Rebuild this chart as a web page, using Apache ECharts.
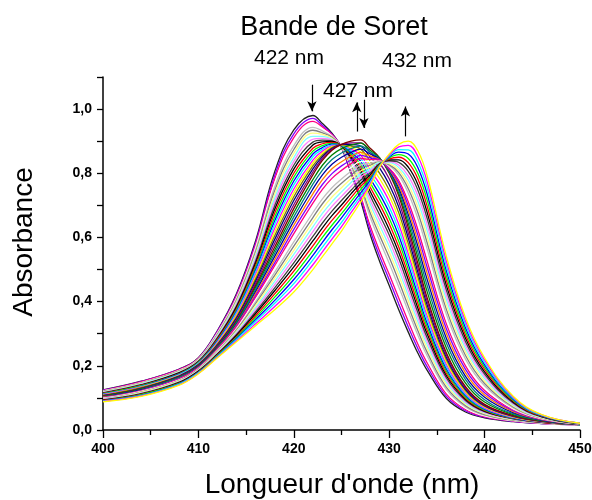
<!DOCTYPE html>
<html>
<head>
<meta charset="utf-8">
<script src="https://cdn.jsdelivr.net/npm/echarts@6.0.0/dist/echarts.min.js"></script>
<style>html,body{margin:0;padding:0;background:#fff;}#chart{width:592px;height:500px;}</style>
</head>
<body>
<div id="chart"></div>
<script>
// Wavelengths (nm) at which the absorbance of every spectrum is read
const wavelengths = [400,404,408,410,412,414,416,418,420,422,423,424,425,426,427,428,429,430,431,432,433,434,436,438,440,443,446,450];

// Absorbance at each wavelength for the 41 successive spectra (spectrum 1 ... 41)
const a400 = [0.125,0.124,0.123,0.122,0.121,0.120,0.119,0.118,0.117,0.116,0.115,0.114,0.113,0.112,0.111,0.110,0.109,0.108,0.107,0.106,0.105,0.104,0.103,0.102,0.102,0.101,0.100,0.099,0.098,0.097,0.096,0.096,0.095,0.094,0.093,0.092,0.091,0.091,0.090,0.089,0.088];
const a404 = [0.152,0.151,0.150,0.148,0.147,0.146,0.145,0.144,0.142,0.141,0.140,0.139,0.138,0.136,0.135,0.134,0.133,0.132,0.130,0.129,0.128,0.127,0.126,0.125,0.123,0.122,0.121,0.120,0.119,0.118,0.117,0.115,0.114,0.113,0.112,0.111,0.110,0.108,0.107,0.106,0.105];
const a408 = [0.190,0.189,0.188,0.186,0.185,0.184,0.183,0.181,0.180,0.179,0.178,0.176,0.175,0.174,0.173,0.171,0.170,0.169,0.168,0.166,0.165,0.164,0.163,0.161,0.160,0.159,0.158,0.156,0.155,0.154,0.153,0.151,0.150,0.149,0.148,0.146,0.145,0.144,0.143,0.141,0.140];
const a410 = [0.225,0.224,0.223,0.221,0.220,0.219,0.218,0.216,0.215,0.214,0.213,0.211,0.210,0.209,0.208,0.206,0.205,0.204,0.203,0.201,0.200,0.199,0.198,0.196,0.195,0.194,0.193,0.191,0.190,0.189,0.188,0.186,0.185,0.184,0.183,0.181,0.180,0.179,0.178,0.176,0.175];
const a412 = [0.310,0.308,0.305,0.303,0.300,0.298,0.295,0.293,0.290,0.288,0.285,0.283,0.280,0.278,0.275,0.273,0.270,0.268,0.265,0.263,0.260,0.258,0.257,0.255,0.253,0.251,0.250,0.248,0.246,0.244,0.243,0.241,0.239,0.237,0.236,0.234,0.232,0.230,0.229,0.227,0.225];
const a414 = [0.425,0.421,0.417,0.412,0.408,0.404,0.400,0.395,0.391,0.387,0.383,0.378,0.374,0.370,0.366,0.361,0.357,0.353,0.349,0.344,0.340,0.337,0.334,0.330,0.327,0.324,0.321,0.317,0.314,0.311,0.308,0.304,0.301,0.298,0.295,0.291,0.288,0.285,0.282,0.278,0.275];
const a416 = [0.590,0.583,0.576,0.569,0.562,0.555,0.548,0.541,0.534,0.527,0.520,0.513,0.506,0.499,0.492,0.485,0.478,0.471,0.464,0.457,0.450,0.444,0.438,0.431,0.425,0.419,0.413,0.406,0.400,0.394,0.388,0.381,0.375,0.369,0.363,0.356,0.350,0.344,0.338,0.331,0.325];
const a418 = [0.805,0.793,0.782,0.770,0.758,0.746,0.735,0.723,0.711,0.699,0.688,0.676,0.664,0.652,0.641,0.629,0.617,0.605,0.594,0.582,0.570,0.560,0.551,0.541,0.531,0.521,0.512,0.502,0.492,0.482,0.473,0.463,0.453,0.443,0.434,0.424,0.414,0.404,0.395,0.385,0.375];
const a420 = [0.935,0.923,0.911,0.898,0.886,0.874,0.862,0.849,0.837,0.825,0.813,0.800,0.788,0.776,0.764,0.751,0.739,0.727,0.715,0.702,0.690,0.677,0.664,0.651,0.638,0.625,0.612,0.599,0.586,0.573,0.560,0.547,0.534,0.521,0.508,0.495,0.482,0.469,0.456,0.443,0.430];
const a422 = [0.980,0.971,0.962,0.952,0.943,0.934,0.925,0.915,0.906,0.897,0.888,0.878,0.869,0.860,0.851,0.841,0.832,0.823,0.814,0.804,0.795,0.780,0.766,0.751,0.736,0.721,0.707,0.692,0.677,0.662,0.648,0.633,0.618,0.603,0.589,0.574,0.559,0.544,0.530,0.515,0.500];
const a423 = [0.955,0.949,0.944,0.938,0.932,0.926,0.921,0.915,0.909,0.903,0.898,0.892,0.886,0.880,0.875,0.869,0.863,0.857,0.852,0.846,0.840,0.825,0.810,0.795,0.780,0.765,0.750,0.735,0.720,0.705,0.690,0.675,0.660,0.645,0.630,0.615,0.600,0.585,0.570,0.555,0.540];
const a424 = [0.925,0.922,0.920,0.917,0.914,0.912,0.909,0.906,0.904,0.901,0.899,0.896,0.893,0.891,0.888,0.885,0.883,0.880,0.877,0.875,0.872,0.857,0.843,0.828,0.814,0.799,0.784,0.770,0.755,0.741,0.726,0.711,0.697,0.682,0.668,0.653,0.638,0.624,0.609,0.595,0.580];
const a425 = [0.880,0.881,0.881,0.882,0.882,0.883,0.883,0.884,0.884,0.885,0.885,0.886,0.886,0.887,0.887,0.888,0.888,0.889,0.889,0.890,0.890,0.877,0.863,0.850,0.836,0.823,0.809,0.796,0.782,0.769,0.755,0.742,0.728,0.715,0.701,0.688,0.674,0.661,0.647,0.634,0.620];
const a426 = [0.800,0.805,0.810,0.815,0.820,0.825,0.830,0.835,0.840,0.845,0.850,0.855,0.860,0.865,0.870,0.875,0.880,0.885,0.890,0.895,0.900,0.888,0.877,0.865,0.853,0.841,0.830,0.818,0.806,0.794,0.783,0.771,0.759,0.747,0.736,0.724,0.712,0.700,0.689,0.677,0.665];
const a427 = [0.715,0.724,0.734,0.743,0.753,0.762,0.772,0.781,0.791,0.800,0.810,0.819,0.828,0.838,0.847,0.857,0.866,0.876,0.885,0.895,0.904,0.894,0.885,0.875,0.865,0.856,0.846,0.836,0.826,0.817,0.807,0.797,0.788,0.778,0.768,0.759,0.749,0.739,0.729,0.720,0.710];
const a428 = [0.610,0.623,0.637,0.650,0.664,0.677,0.690,0.704,0.717,0.731,0.744,0.757,0.771,0.784,0.798,0.811,0.824,0.838,0.851,0.865,0.878,0.872,0.866,0.860,0.854,0.848,0.843,0.837,0.831,0.825,0.819,0.813,0.807,0.801,0.795,0.789,0.784,0.778,0.772,0.766,0.760];
const a429 = [0.525,0.541,0.557,0.573,0.590,0.606,0.622,0.638,0.654,0.670,0.687,0.703,0.719,0.735,0.751,0.767,0.783,0.800,0.816,0.832,0.848,0.847,0.845,0.844,0.842,0.841,0.840,0.838,0.837,0.835,0.834,0.833,0.831,0.830,0.828,0.827,0.826,0.824,0.823,0.821,0.820];
const a430 = [0.450,0.468,0.485,0.503,0.520,0.538,0.555,0.573,0.590,0.608,0.625,0.643,0.660,0.678,0.695,0.713,0.730,0.748,0.765,0.783,0.800,0.803,0.806,0.809,0.812,0.815,0.818,0.821,0.824,0.827,0.830,0.833,0.836,0.839,0.842,0.845,0.848,0.851,0.854,0.857,0.860];
const a431 = [0.375,0.393,0.411,0.428,0.446,0.464,0.482,0.499,0.517,0.535,0.553,0.570,0.588,0.606,0.624,0.641,0.659,0.677,0.695,0.712,0.730,0.738,0.746,0.754,0.762,0.770,0.778,0.786,0.794,0.802,0.810,0.818,0.826,0.834,0.842,0.850,0.858,0.866,0.874,0.882,0.890];
const a432 = [0.305,0.321,0.338,0.354,0.370,0.386,0.403,0.419,0.435,0.451,0.468,0.484,0.500,0.516,0.533,0.549,0.565,0.581,0.598,0.614,0.630,0.644,0.657,0.671,0.684,0.698,0.711,0.725,0.738,0.752,0.765,0.779,0.792,0.806,0.819,0.833,0.846,0.860,0.873,0.887,0.900];
const a433 = [0.240,0.254,0.268,0.282,0.296,0.310,0.324,0.338,0.352,0.366,0.380,0.394,0.408,0.422,0.436,0.450,0.464,0.478,0.492,0.506,0.520,0.538,0.555,0.573,0.590,0.608,0.625,0.643,0.660,0.678,0.695,0.713,0.730,0.748,0.765,0.783,0.800,0.818,0.835,0.853,0.870];
const a434 = [0.185,0.196,0.208,0.219,0.230,0.241,0.253,0.264,0.275,0.286,0.298,0.309,0.320,0.331,0.343,0.354,0.365,0.376,0.388,0.399,0.410,0.429,0.448,0.467,0.486,0.505,0.524,0.543,0.562,0.581,0.600,0.619,0.638,0.657,0.676,0.695,0.714,0.733,0.752,0.771,0.790];
const a436 = [0.098,0.105,0.112,0.119,0.126,0.133,0.141,0.148,0.155,0.162,0.169,0.176,0.183,0.190,0.197,0.204,0.212,0.219,0.226,0.233,0.240,0.255,0.270,0.285,0.300,0.315,0.330,0.345,0.360,0.375,0.390,0.405,0.420,0.435,0.450,0.465,0.480,0.495,0.510,0.525,0.540];
const a438 = [0.056,0.060,0.064,0.068,0.072,0.076,0.080,0.084,0.088,0.092,0.096,0.099,0.103,0.107,0.111,0.115,0.119,0.123,0.127,0.131,0.135,0.146,0.157,0.167,0.178,0.189,0.200,0.210,0.221,0.232,0.243,0.253,0.264,0.275,0.286,0.296,0.307,0.318,0.329,0.339,0.350];
const a440 = [0.038,0.040,0.042,0.044,0.046,0.048,0.051,0.053,0.055,0.057,0.059,0.061,0.063,0.065,0.067,0.069,0.072,0.074,0.076,0.078,0.080,0.087,0.094,0.102,0.109,0.116,0.123,0.131,0.138,0.145,0.152,0.160,0.167,0.174,0.181,0.189,0.196,0.203,0.210,0.218,0.225];
const a443 = [0.026,0.027,0.028,0.029,0.030,0.031,0.032,0.033,0.034,0.035,0.036,0.036,0.037,0.038,0.039,0.040,0.041,0.042,0.043,0.044,0.045,0.048,0.051,0.054,0.057,0.060,0.063,0.066,0.069,0.072,0.075,0.078,0.081,0.084,0.087,0.090,0.093,0.096,0.099,0.102,0.105];
const a446 = [0.020,0.020,0.021,0.021,0.022,0.022,0.022,0.023,0.023,0.024,0.024,0.024,0.025,0.025,0.026,0.026,0.026,0.027,0.027,0.028,0.028,0.029,0.030,0.031,0.032,0.033,0.034,0.035,0.036,0.037,0.038,0.039,0.040,0.041,0.042,0.043,0.044,0.045,0.046,0.047,0.048];
const a450 = [0.016,0.016,0.016,0.016,0.016,0.017,0.017,0.017,0.017,0.017,0.017,0.017,0.017,0.017,0.017,0.018,0.018,0.018,0.018,0.018,0.018,0.018,0.018,0.018,0.019,0.019,0.019,0.019,0.019,0.019,0.020,0.020,0.020,0.020,0.020,0.020,0.020,0.021,0.021,0.021,0.021];

// Tick labels and annotation texts
const xTicks = [400, 410, 420, 430, 440, 450];
const peakLabels = ['422 nm', '427 nm', '432 nm'];
// Arrow annotations: [wavelength, absorbance start, absorbance end]
const arrow422 = [421.9, 1.076, 0.993];
const arrow427up = [426.6, 0.930, 1.021];
const arrow427down = [427.35, 1.029, 0.941];
const arrow432 = [431.7, 0.915, 1.008];

const columns = [a400,a404,a408,a410,a412,a414,a416,a418,a420,a422,a423,a424,a425,a426,a427,a428,a429,a430,a431,a432,a433,a434,a436,a438,a440,a443,a446,a450];

const palette = ['#000000','#FF0000','#00FF00','#0000FF','#00FFFF','#FF00FF','#FFFF00','#808000','#000080','#800080','#800000','#008000','#008080','#0000A0','#FF8000','#8000FF','#FF0080','#FFFFFF','#C0C0C0','#808080','#FFFF80','#80FFFF','#FF80FF','#404040'];

const nSpectra = a400.length;
const series = [];
for (let j = 0; j < nSpectra; j++) {
  let col = palette[(j + 14) % 24];
  if (j === 0) col = '#202020';
  series.push({
    type: 'line',
    data: wavelengths.map((w, i) => [w, columns[i][j]]),
    showSymbol: false,
    smooth: 0.4,
    lineStyle: { width: 1.3, color: col },
    itemStyle: { color: col },
    emphasis: { disabled: true },
    silent: true,
    animation: false
  });
}
function arrowSeg(a) { return [{ coord: [a[0], a[1]] }, { coord: [a[0], a[2]] }]; }
series.push({
  type: 'line', data: [], silent: true, animation: false,
  markLine: {
    silent: true, animation: false,
    symbol: ['none', 'arrow'], symbolSize: [7, 10],
    label: { show: false },
    lineStyle: { color: '#000', width: 1.2, type: 'solid' },
    data: [arrowSeg(arrow422), arrowSeg(arrow427up), arrowSeg(arrow427down), arrowSeg(arrow432)]
  }
});

const FONT = '"Liberation Sans", Arial, sans-serif';
const chart = echarts.init(document.getElementById('chart'), null, { renderer: 'canvas' });
chart.setOption({
  backgroundColor: '#fff',
  animation: false,
  grid: { left: 103, right: 12, top: 77, bottom: 70, containLabel: false, outerBoundsMode: 'none' },
  xAxis: {
    type: 'value', min: 400, max: 450, interval: 10,
    axisLine: { show: true, lineStyle: { color: '#000', width: 1.5 } },
    axisTick: { show: true, length: 8, lineStyle: { color: '#000', width: 1.3 } },
    minorTick: { show: true, splitNumber: 2, length: 5, lineStyle: { color: '#000', width: 1.3 } },
    splitLine: { show: false }, minorSplitLine: { show: false },
    axisLabel: { color: '#000', fontWeight: 'bold', fontSize: 14, fontFamily: FONT, margin: 12,
      formatter: v => (xTicks.indexOf(v) >= 0 ? String(v) : '') }
  },
  yAxis: {
    type: 'value', min: 0, max: 1.1, interval: 0.1,
    axisLine: { show: true, lineStyle: { color: '#000', width: 1.5 } },
    axisTick: { show: true, length: 6, lineStyle: { color: '#000', width: 1.3 } },
    splitLine: { show: false },
    axisLabel: { color: '#000', fontWeight: 'bold', fontSize: 14, fontFamily: FONT, margin: 11,
      formatter: v => { const t = Math.round(v * 10); return (t % 2 === 0 && t <= 10) ? (t / 10).toFixed(1).replace('.', ',') : ''; } }
  },
  series: series,
  graphic: [
    { type: 'text', x: 334, y: 28, silent: true, style: { text: 'Bande de Soret', font: '27px ' + FONT, fill: '#000', textAlign: 'center', textVerticalAlign: 'middle' } },
    { type: 'text', x: 289, y: 58, silent: true, style: { text: peakLabels[0], font: '21px ' + FONT, fill: '#000', textAlign: 'center', textVerticalAlign: 'middle' } },
    { type: 'text', x: 358, y: 91, silent: true, style: { text: peakLabels[1], font: '21px ' + FONT, fill: '#000', textAlign: 'center', textVerticalAlign: 'middle' } },
    { type: 'text', x: 417, y: 61, silent: true, style: { text: peakLabels[2], font: '21px ' + FONT, fill: '#000', textAlign: 'center', textVerticalAlign: 'middle' } },
    { type: 'text', x: 342, y: 485, silent: true, style: { text: "Longueur d'onde (nm)", font: '28px ' + FONT, fill: '#000', textAlign: 'center', textVerticalAlign: 'middle' } },
    { type: 'text', x: 24, y: 242, rotation: Math.PI / 2, silent: true, style: { text: 'Absorbance', font: '28px ' + FONT, fill: '#000', textAlign: 'center', textVerticalAlign: 'middle' } }
  ]
});
</script>
</body>
</html>
